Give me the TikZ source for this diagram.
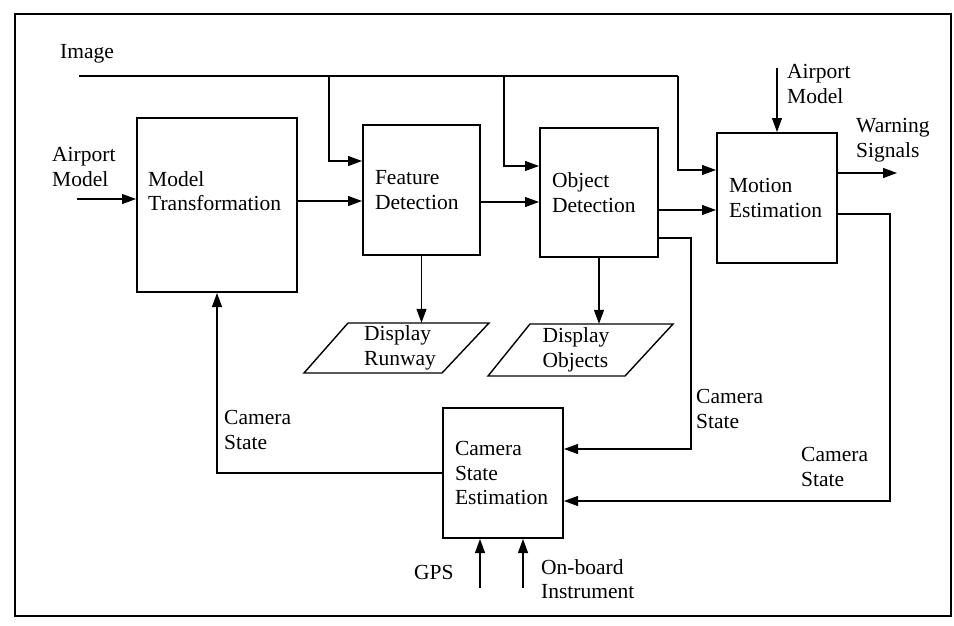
\documentclass[tikz,border=0pt]{standalone}
\usepackage{fontspec}
\setmainfont{Liberation Serif}
\usetikzlibrary{arrows.meta}

\begin{document}
\begin{tikzpicture}[x=1pt,y=-1pt,
  font=\fontsize{21.5}{24.5}\selectfont,
  box/.style={draw,line width=2pt,align=left,inner xsep=12pt,inner ysep=0pt},
  lbl/.style={align=left,inner sep=0pt,anchor=west},
  arr/.style={line width=1.1pt,-{Triangle[length=14pt,width=10pt]}},
  wire/.style={line width=1.1pt}]
\path[fill=white,use as bounding box] (0,0) rectangle (954,625);
\draw[line width=1.8pt] (15,14) rectangle (951,616);

\node[box,minimum width=160pt,minimum height=174pt] (mt) at (217,205) {};
\node[lbl] (mtlbl) at (148,191) {Model\\Transformation};
\node[box,minimum width=117pt,minimum height=130pt,text width=93pt] (fd) at (421.5,190) {Feature\\Detection};
\node[box,minimum width=118pt,minimum height=129pt,text width=94pt] (od) at (599,192.5) {Object\\Detection};
\node[box,minimum width=120pt,minimum height=130pt,text width=96pt] (me) at (777,198) {Motion\\Estimation};
\node[box,minimum width=120pt,minimum height=130pt,text width=96pt] (cse) at (503,473) {Camera\\State\\Estimation};

\node[align=left,inner sep=0pt,minimum height=50pt] (dr) at (400,348) {Display\\Runway};
\draw[line width=1.4pt] (dr.center) ++(-96,25) -- ++(138,0) -- ++(47,-50) -- ++(-141,0) -- cycle;
\node[align=left,inner sep=0pt,minimum height=52pt] (dob) at (576,350) {Display\\Objects};
\draw[line width=1.4pt] (dob.center) ++(-88,26) -- ++(137,0) -- ++(48,-52) -- ++(-143,0) -- cycle;

\node[lbl] (imglbl) at (60,54) {Image};
\node[lbl] (aplbl) at (52,167) {Airport\\Model};
\node[lbl] (ap2lbl) at (787,84) {Airport\\Model};
\node[lbl] (warnlbl) at (856,140) {Warning\\Signals};
\node[lbl] (cs1lbl) at (224,430) {Camera\\State};
\node[lbl] (cs2lbl) at (696,409) {Camera\\State};
\node[lbl] (cs3lbl) at (801,467) {Camera\\State};
\node[lbl] (gpslbl) at (414,572) {GPS};
\node[lbl] (oblbl) at (541,579) {On-board\\Instrument};

% image bus
\coordinate (imgL) at (79,76);
\coordinate (tapF) at (329,76);
\coordinate (tapO) at (504,76);
\coordinate (tapM) at (678,76);
\draw[wire] (imgL) -- (tapM);
\draw[arr] (tapF) |- ([yshift=29pt]fd.west);
\draw[arr] (tapO) |- ([yshift=26.5pt]od.west);
\draw[arr] (tapM) |- ([yshift=28pt]me.west);

% main chain
\coordinate (apIn) at (77,199);
\draw[arr] (apIn) -- (apIn -| mt.west);
\coordinate (mtOut) at ([yshift=4pt]mt.east);
\draw[arr] (mtOut) -- (mtOut -| fd.west);
\coordinate (fdOut) at ([yshift=-12pt]fd.east);
\draw[arr] (fdOut) -- (fdOut -| od.west);
\coordinate (odOut) at ([yshift=-17.5pt]od.east);
\draw[arr] (odOut) -- (odOut -| me.west);
\coordinate (apTop) at (777,68);
\draw[arr] (apTop) -- (me.north);
\coordinate (warnOut) at (897,173);
\draw[arr] ([yshift=25pt]me.east) -- (warnOut);

% displays
\draw[arr] (fd.south) -- (fd.south |- dr.north);
\draw[arr] (od.south) -- (od.south |- dob.north);

% camera state loop
\draw[arr] ([yshift=-45.5pt]od.east) -- ++(32,0) |- ([yshift=24pt]cse.east);
\draw[arr] ([yshift=-16pt]me.east) -- ++(52,0) |- ([yshift=-28pt]cse.east);
\draw[arr] (cse.west) -| (mt.south);
\coordinate (gpsIn) at (480,588);
\coordinate (obIn) at (523,588);
\draw[arr] (gpsIn) -- (gpsIn |- cse.south);
\draw[arr] (obIn) -- (obIn |- cse.south);
\end{tikzpicture}
\end{document}
